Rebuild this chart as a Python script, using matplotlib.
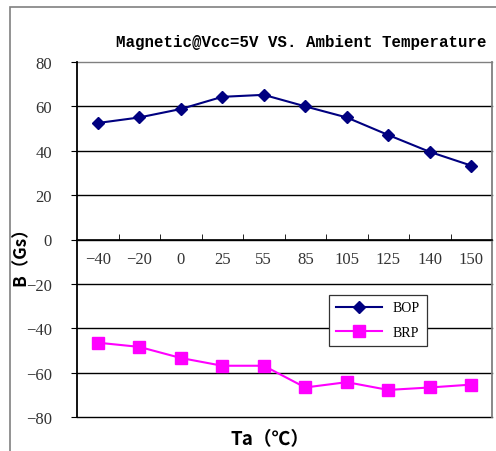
import matplotlib.pyplot as plt
from matplotlib.patches import Rectangle

temps = ["-40", "-20", "0", "25", "55", "85", "105", "125", "140", "150"]
bop = [52.5, 55.0, 58.8, 64.3, 65.2, 60.0, 55.0, 47.1, 39.5, 33.3]
brp = [-46.5, -48.4, -53.4, -56.9, -56.9, -66.7, -64.3, -67.8, -66.7, -65.4]
y_ticks = [-80, -60, -40, -20, 0, 20, 40, 60, 80]

SERIF = "Liberation Serif"
CJK = ["Noto Sans CJK SC", "DejaVu Sans"]


def minus(s):
    return s.replace("-", "\u2212")


fig = plt.figure(figsize=(4.96, 4.52), dpi=100)
# outer chart-area frame (only left and top edges fall inside the picture)
fig.patches.append(Rectangle((10 / 496, -0.2), 1.2, 0.2 + (452 - 8) / 452,
                             transform=fig.transFigure, fill=False, ec="#808080", lw=1.2))

ax = fig.add_axes([77 / 496, 1 - 418 / 452, 415 / 496, 355 / 452])
x = list(range(len(temps)))

ax.plot(x, bop, color="#000080", marker="D", markersize=6, lw=1.5, label="BOP")
ax.plot(x, brp, color="#FF00FF", marker="s", markersize=8.5, lw=1.5, label="BRP")

ax.set_xlim(-0.5, len(temps) - 0.5)
ax.set_ylim(-80, 80)
for v in y_ticks:
    ax.axhline(v, color="#808080" if v == 80 else "black", lw=1.0, zorder=0, clip_on=False)

# category axis sits on the zero line
ax.spines["bottom"].set_position(("data", 0))
ax.spines["bottom"].set_linewidth(1.2)
ax.spines["left"].set_linewidth(1.3)
ax.spines["top"].set_visible(False)
ax.spines["right"].set_color("#808080")
ax.spines["right"].set_linewidth(1.3)
ax.set_xticks(x)
ax.set_xticklabels([minus(t) for t in temps], family=SERIF, fontsize=12, color="#333333")
ax.tick_params(axis="x", which="major", length=0, pad=8)
ax.set_xticks([i + 0.5 for i in x[:-1]], minor=True)
ax.tick_params(axis="x", which="minor", direction="in", length=4)

ax.set_yticks(y_ticks)
ax.set_yticklabels([minus(str(v)) for v in y_ticks], family=SERIF, fontsize=12, color="#333333")
ax.tick_params(axis="y", length=4, direction="out", pad=14)

ax.set_ylabel("B（Gs）", family=CJK, fontsize=12.5, fontweight="bold")
ax.yaxis.set_label_coords(-(77 - 30) / 415, (418 - 252) / 355)
fig.text(270 / 496, 1 - 440 / 452, "Ta（℃）", family=CJK, fontsize=13.5,
         fontweight="bold", ha="center", va="center")
fig.text(116 / 496, 1 - 42 / 452, "Magnetic@Vcc=5V VS. Ambient Temperature",
         family="Liberation Mono", fontsize=11.3, fontweight="bold", ha="left", va="center")

leg = ax.legend(loc="center", bbox_to_anchor=((378 - 77) / 415, (418 - 321) / 355),
                prop={"family": SERIF, "size": 10}, fancybox=False, framealpha=1,
                edgecolor="#333333", borderpad=0.5, labelspacing=0.8, handlelength=3.3)
leg.get_frame().set_linewidth(0.9)

fig.savefig("out.png", dpi=100)
